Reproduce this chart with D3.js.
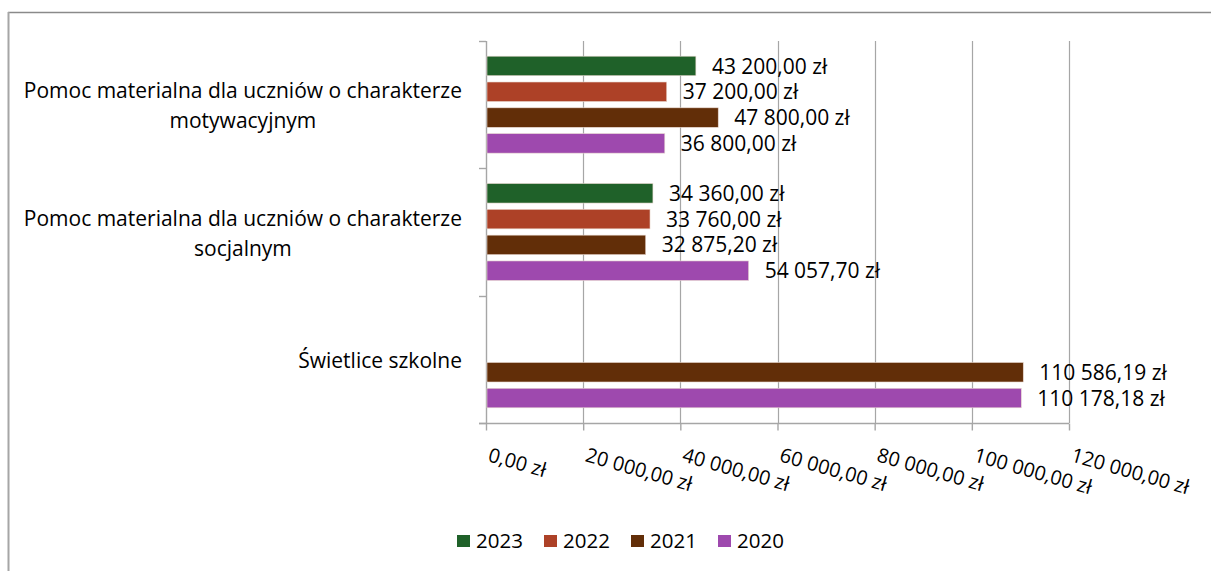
<!DOCTYPE html>
<html>
<head>
<meta charset="utf-8">
<script src="https://cdn.jsdelivr.net/npm/d3@7"></script>
<style>
  html, body { margin: 0; padding: 0; background: #fff; }
  svg { display: block; }
  text { font-family: "Open Sans", "Noto Sans", sans-serif; fill: #000; }
</style>
</head>
<body>
<svg id="chart" width="1211" height="571"></svg>
<script>
// ---- data ----
const categories = [
  ["Pomoc materialna dla uczniów o charakterze", "motywacyjnym"],
  ["Pomoc materialna dla uczniów o charakterze", "socjalnym"],
  ["Świetlice szkolne"]
];
const categoryKeys = ["motywacyjny", "socjalny", "swietlice"];
const seriesNames = ["2023", "2022", "2021", "2020"];
const values2023 = [43200.00, 34360.00, null];
const values2022 = [37200.00, 33760.00, null];
const values2021 = [47800.00, 32875.20, 110586.19];
const values2020 = [36800.00, 54057.70, 110178.18];
const seriesValues = [values2023, values2022, values2021, values2020];
const seriesColors = ["#1f6129", "#ad4127", "#622e08", "#9e49ae"];
const xTicks = [0, 20000, 40000, 60000, 80000, 100000, 120000];

// ---- formatting ----
const loc = d3.formatLocale({decimal: ",", thousands: " ", grouping: [3], currency: ["", " zł"]});
const fmt = loc.format(",.2f");
const money = v => fmt(v) + " zł";

const svg = d3.select("#chart");

// frame
svg.append("line").attr("x1", 8).attr("x2", 1211).attr("y1", 12.5).attr("y2", 12.5)
  .attr("stroke", "#8a8a8a").attr("stroke-width", 1.3);
svg.append("line").attr("x1", 8.5).attr("x2", 8.5).attr("y1", 12).attr("y2", 571)
  .attr("stroke", "#a6a6a6").attr("stroke-width", 2);

// scales
const x = d3.scaleLinear().domain([0, 120000]).range([486, 1069]);
const y = d3.scaleBand().domain(categoryKeys).range([41, 423]).paddingInner(0).paddingOuter(0);
const ySub = d3.scaleBand().domain(seriesNames).range([0, y.bandwidth()])
  .paddingInner(0.244).paddingOuter(0.589);

// gridlines
const grid = svg.append("g");
grid.selectAll("line").data(xTicks.slice(1)).join("line")
  .attr("x1", d => Math.round(x(d)) + 0.5).attr("x2", d => Math.round(x(d)) + 0.5)
  .attr("y1", 41).attr("y2", 423)
  .attr("stroke", "#a6a6a6").attr("stroke-width", 1.2);

// x axis
const xAxis = svg.append("g").attr("transform", "translate(0,423.5)")
  .call(d3.axisBottom(x).tickValues(xTicks).tickSize(7).tickFormat(""));
xAxis.select(".domain").attr("d", `M479,0H${x(120000)}`).attr("stroke", "#a6a6a6").attr("stroke-width", 1.4);
xAxis.selectAll(".tick line").attr("stroke", "#a6a6a6").attr("stroke-width", 1.4);

// rotated tick labels
svg.append("g").selectAll("text").data(xTicks).join("text")
  .attr("transform", d => `translate(${x(d) + 1},461) rotate(16)`)
  .attr("font-size", 20)
  .attr("text-anchor", "start")
  .text(d => money(d));

// y axis
const yBounds = [41, 168.3, 295.7, 423];
svg.append("line").attr("x1", 486.5).attr("x2", 486.5).attr("y1", 41).attr("y2", 423)
  .attr("stroke", "#a6a6a6").attr("stroke-width", 1.4);
svg.append("g").selectAll("line").data(yBounds).join("line")
  .attr("x1", 479).attr("x2", 486)
  .attr("y1", d => Math.round(d) + 0.5).attr("y2", d => Math.round(d) + 0.5)
  .attr("stroke", "#a6a6a6").attr("stroke-width", 1.4);

// bars
const rows = [];
categoryKeys.forEach((c, ci) => {
  seriesNames.forEach((s, si) => {
    const v = seriesValues[si][ci];
    if (v != null) rows.push({c, s, v, color: seriesColors[si]});
  });
});
const bars = svg.append("g");
bars.selectAll("rect").data(rows).join("rect")
  .attr("x", x(0) + 1)
  .attr("y", d => y(d.c) + ySub(d.s))
  .attr("width", d => x(d.v) - x(0) - 1)
  .attr("height", ySub.bandwidth())
  .attr("fill", d => d.color)
  .attr("stroke", "#e8d8d0").attr("stroke-width", 0.6);

// data labels
svg.append("g").selectAll("text").data(rows).join("text")
  .attr("x", d => x(d.v) + 16)
  .attr("y", d => y(d.c) + ySub(d.s) + ySub.bandwidth() / 2)
  .attr("dy", "0.36em")
  .attr("font-size", 21)
  .text(d => money(d.v));

// category labels
const catG = svg.append("g");
categories.forEach((lines, i) => {
  const cy = y(categoryKeys[i]) + y.bandwidth() / 2 + 1;
  const lh = 30;
  const t = catG.append("text").attr("font-size", 21).attr("text-anchor", "middle");
  lines.forEach((ln, li) => {
    t.append("tspan").attr("x", 0)
      .attr("y", cy + (li - (lines.length - 1) / 2) * lh)
      .attr("dy", "0.36em").text(ln);
  });
  let maxW = 0;
  t.selectAll("tspan").each(function() { maxW = Math.max(maxW, this.getComputedTextLength()); });
  t.selectAll("tspan").attr("x", 462 - maxW / 2);
});

// legend
const legendX = [457, 544, 631, 718];
const lg = svg.append("g");
seriesNames.forEach((s, i) => {
  lg.append("rect").attr("x", legendX[i]).attr("y", 535).attr("width", 13).attr("height", 12)
    .attr("fill", seriesColors[i]);
  lg.append("text").attr("x", legendX[i] + 19).attr("y", 541).attr("dy", "0.36em")
    .attr("font-size", 20.5).text(s);
});
</script>
</body>
</html>
